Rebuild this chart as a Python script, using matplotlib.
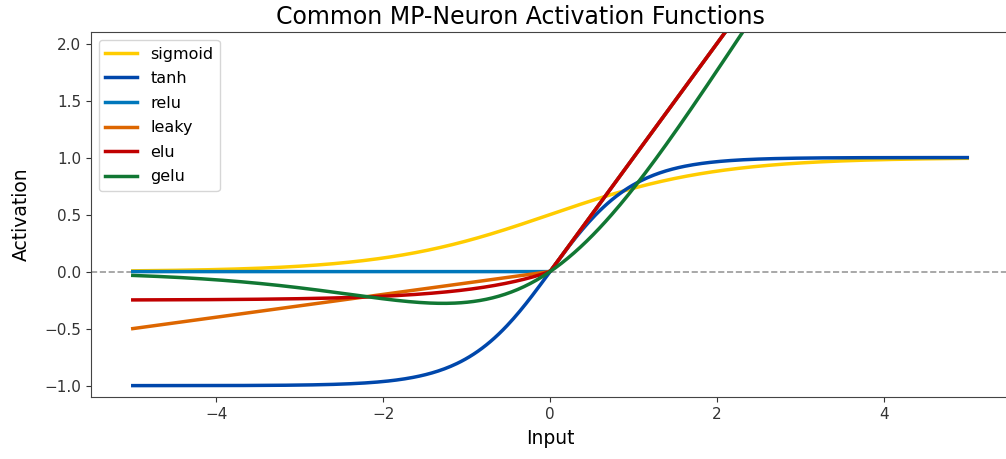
import numpy as np
import matplotlib
matplotlib.use("Agg")
import matplotlib.pyplot as plt

# input range and the parameters of the activation functions
xStart, xEnd, nPoints = -5, 5, 400
leakySlope = 0.1
eluAlpha = 0.25

names = ["sigmoid", "tanh", "relu", "leaky", "elu", "gelu"]
colors = ["#FFCC00", "#0047AB", "#0077BB", "#DD6600", "#C00000", "#117733"]

x = np.linspace(xStart, xEnd, nPoints)

# activation functions
def sigmoid(v):
    return 1 / (1 + np.exp(-v))

curves = {
    "sigmoid": sigmoid(x),
    "tanh": np.tanh(x),
    "relu": np.maximum(0, x),
    "leaky": np.where(x > 0, x, leakySlope * x),
    "elu": np.where(x > 0, x, eluAlpha * (np.exp(x) - 1)),
    "gelu": x * sigmoid(x),
}

fig = plt.figure(figsize=(10.06, 4.59), dpi=100)
ax = fig.add_axes([0.0905, 0.135, 0.9125, 0.795])

for name, col in zip(names, colors):
    ax.plot(x, curves[name], color=col, linewidth=2.5, label=name)

ax.axhline(0, color="gray", linestyle="--", linewidth=1.2, alpha=0.8, zorder=0)

ax.set_xlim(-5.5, 5.5)
ax.set_ylim(-1.1, 2.1)
ax.set_title("Common MP-Neuron Activation Functions", fontsize=17, x=0.468)
ax.set_xlabel("Input", fontsize=13.5, labelpad=5)
ax.set_ylabel("Activation", fontsize=13.5, labelpad=10)
ax.tick_params(labelsize=11, colors="#333333")
for sp in ax.spines.values():
    sp.set_color("#444444")
ax.legend(loc="upper left", fontsize=11.5, labelspacing=0.6)

plt.savefig("out.png", dpi=100)
